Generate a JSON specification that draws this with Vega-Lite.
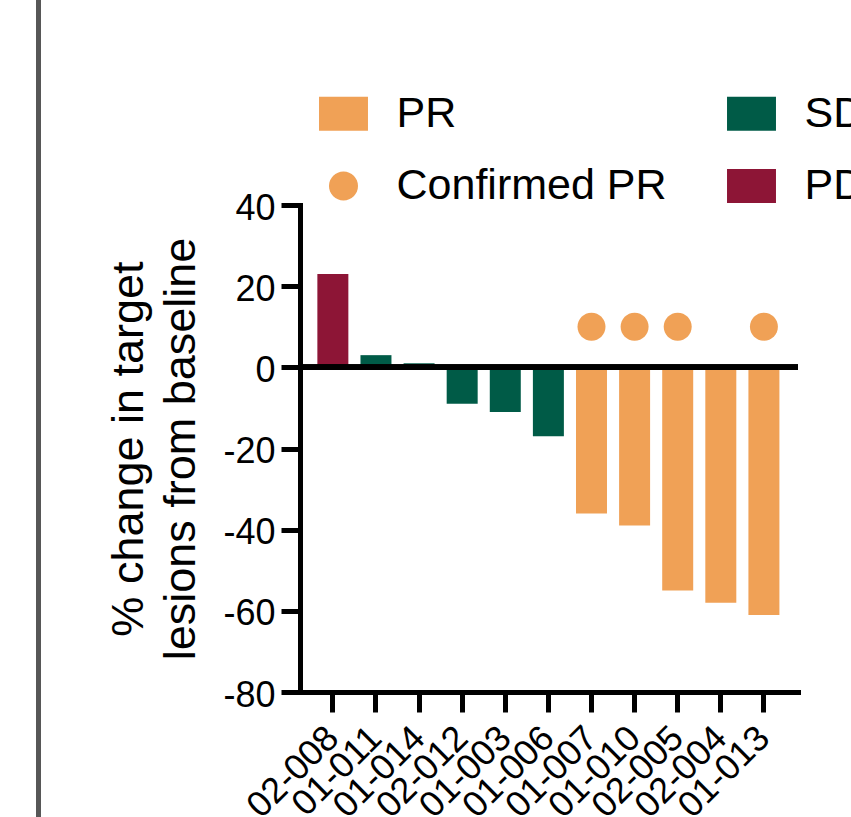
{
  "$schema": "https://vega.github.io/schema/vega-lite/v6.json",
  "padding": {"left": 36, "top": 0, "right": 0, "bottom": 0},
  "config": {
    "view": {"stroke": null},
    "font": "Liberation Sans",
    "legend": {
      "title": null, "orient": "none", "legendX": 22, "legendY": -113,
      "columns": 2, "columnPadding": 60, "rowPadding": 28.5, "padding": 0,
      "labelFontSize": 43, "labelFont": "Liberation Sans", "labelColor": "black", "labelOffset": 31.5, "labelLimit": 600,
      "symbolSize": 1156, "symbolStrokeWidth": 0, "symbolOpacity": 1
    }
  },
  "datasets": {
    "patients": [
      {"id": "02-008", "change": 23, "response": "PD", "confirmation": "none"},
      {"id": "01-011", "change": 3, "response": "SD", "confirmation": "none"},
      {"id": "01-014", "change": 1, "response": "SD", "confirmation": "none"},
      {"id": "02-012", "change": -9, "response": "SD", "confirmation": "none"},
      {"id": "01-003", "change": -11, "response": "SD", "confirmation": "none"},
      {"id": "01-006", "change": -17, "response": "SD", "confirmation": "none"},
      {"id": "01-007", "change": -36, "response": "PR", "confirmation": "Confirmed PR"},
      {"id": "01-010", "change": -39, "response": "PR", "confirmation": "Confirmed PR"},
      {"id": "02-005", "change": -55, "response": "PR", "confirmation": "Confirmed PR"},
      {"id": "02-004", "change": -58, "response": "PR", "confirmation": "none"},
      {"id": "01-013", "change": -61, "response": "PR", "confirmation": "Confirmed PR"}
    ]
  },
  "spacing": 65,
  "resolve": {"scale": {"color": "independent", "shape": "independent"}},
  "hconcat": [
    {
      "width": 5,
      "height": 900,
      "view": {"fill": "#575757", "stroke": null},
      "data": {"values": []},
      "mark": {"type": "point", "opacity": 0},
      "encoding": {}
    },
    {
      "spacing": 91,
      "resolve": {"scale": {"color": "independent", "shape": "independent"}},
      "vconcat": [
        {
          "width": 1,
          "height": 1,
          "data": {"values": []},
          "mark": {"type": "point", "opacity": 0},
          "encoding": {}
        },
        {
          "width": 498,
          "height": 487,
          "data": {"name": "patients"},
          "layer": [
            {
              "mark": {"type": "bar"},
              "encoding": {
                "x": {
                  "field": "id", "type": "nominal", "sort": null,
                  "scale": {
                    "domain": ["02-008","01-011","01-014","02-012","01-003","01-006","01-007","01-010","02-005","02-004","01-013"],
                    "paddingInner": 0.281, "paddingOuter": 0.417, "align": 0.483
                  },
                  "axis": {
                    "title": null, "labelAngle": -45, "labelAlign": "right", "labelBaseline": "middle",
                    "labelFontSize": 36, "labelFont": "Liberation Sans", "labelColor": "black", "labelPadding": 20,
                    "labelOverlap": false, "labelLimit": 400,
                    "tickSize": 20, "tickWidth": 5, "tickColor": "black",
                    "domainColor": "black", "domainWidth": 5, "domainCap": "square", "grid": false
                  }
                },
                "y": {
                  "field": "change", "type": "quantitative",
                  "scale": {"domain": [-80, 40], "nice": false, "zero": false},
                  "axis": {
                    "title": ["% change in target", "lesions from baseline"],
                    "values": [-80, -60, -40, -20, 0, 20, 40],
                    "labelExpr": "'' + datum.value",
                    "grid": false, "labelFlush": false, "labelOverlap": false,
                    "domainColor": "black", "domainWidth": 5, "domainCap": "square",
                    "tickColor": "black", "tickWidth": 5, "tickSize": 19,
                    "labelFontSize": 36, "labelFont": "Liberation Sans", "labelColor": "black", "labelPadding": 6, "labelOffset": 3,
                    "titleFontSize": 45, "titleFont": "Liberation Sans", "titleFontWeight": "normal", "titleColor": "black",
                    "titleLineHeight": 52, "titlePadding": 19
                  }
                },
                "color": {
                  "field": "response", "type": "nominal",
                  "scale": {"domain": ["PR", "Confirmed PR", "SD", "PD"], "range": ["#F0A156", "#F0A156", "#005B47", "#8D1536"]},
                  "legend": {"title": null}
                }
              }
            },
            {
              "mark": {"type": "rule", "strokeWidth": 5, "color": "black"},
              "encoding": {"y": {"datum": 0}}
            },
            {
              "transform": [{"filter": {"field": "confirmation", "equal": "Confirmed PR"}}],
              "mark": {"type": "point", "filled": true, "opacity": 1, "size": 1077, "strokeWidth": 0},
              "encoding": {
                "x": {"field": "id", "type": "nominal", "sort": null},
                "y": {"datum": 10},
                "color": {
                  "field": "confirmation", "type": "nominal",
                  "scale": {"domain": ["PR", "Confirmed PR", "SD", "PD"], "range": ["#F0A156", "#F0A156", "#005B47", "#8D1536"]},
                  "legend": {"title": null}
                },
                "shape": {
                  "field": "confirmation", "type": "nominal",
                  "scale": {
                    "domain": ["PR", "Confirmed PR", "SD", "PD"],
                    "range": ["M-1.44,-1H1.44V1H-1.44Z", "M0,-0.853A0.853,0.853,0,1,1,0,0.853A0.853,0.853,0,1,1,0,-0.853Z", "M-1.44,-1H1.44V1H-1.44Z", "M-1.44,-1H1.44V1H-1.44Z"]
                  },
                  "legend": {"title": null}
                }
              }
            }
          ]
        }
      ]
    }
  ]
}
